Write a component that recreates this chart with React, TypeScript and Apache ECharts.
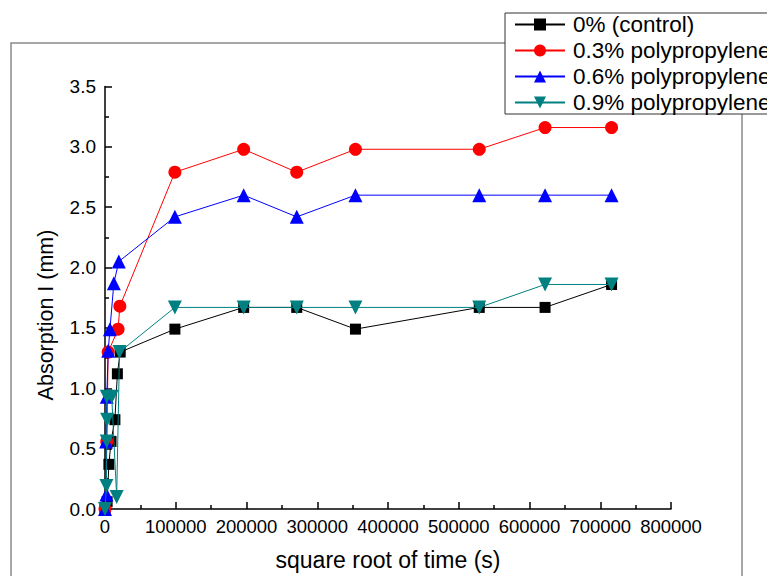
import React, { useEffect, useRef } from "react";
import * as echarts from "echarts";

const seriesNames = ["0% (control)", "0.3% polypropylene", "0.6% polypropylene", "0.9% polypropylene"];
const seriesColors = ["#000000", "#ff0000", "#0000ff", "#008080"];
const seriesSymbols = ["rect", "circle", "triangle", "path://M0,0 L10,0 L5,9 Z"];
const seriesSymbolSizes = [11, 13, 14, 14];

const controlX = [0, 3000, 5500, 8500, 14000, 17500, 21500, 98800, 196000, 271000, 354000, 529000, 622000, 716000];
const controlY = [0, 0.06, 0.37, 0.56, 0.74, 1.12, 1.30, 1.49, 1.67, 1.67, 1.49, 1.67, 1.67, 1.86];

const pp03X = [0, 2500, 4500, 18500, 21000, 98800, 196000, 271000, 354000, 529000, 622000, 716000];
const pp03Y = [0, 0.56, 1.30, 1.49, 1.68, 2.79, 2.98, 2.79, 2.98, 2.98, 3.16, 3.16];

const pp06X = [0, 2000, 1500, 2500, 4500, 7000, 12500, 19500, 98800, 196000, 271000, 354000, 529000, 622000, 716000];
const pp06Y = [0, 0.12, 0.56, 0.93, 1.31, 1.49, 1.87, 2.05, 2.42, 2.60, 2.42, 2.60, 2.60, 2.60, 2.60];

const pp09X = [0, 2000, 2500, 3000, 2500, 9500, 16500, 20500, 98800, 196000, 271000, 354000, 529000, 622000, 716000];
const pp09Y = [0, 0.19, 0.56, 0.74, 0.93, 0.93, 0.10, 1.30, 1.67, 1.67, 1.67, 1.67, 1.67, 1.86, 1.86];

const xs = [controlX, pp03X, pp06X, pp09X];
const ys = [controlY, pp03Y, pp06Y, pp09Y];

const xAxisTitle = "square root of time (s)";
const yAxisTitle = "Absorption I (mm)";

const FONT = "'Liberation Sans', Arial, Helvetica, sans-serif";

export default function App() {
  const ref = useRef<HTMLDivElement>(null);
  useEffect(() => {
    if (!ref.current) return;
    const chart = echarts.init(ref.current, null, { renderer: "svg", width: 767, height: 576 });
    const series = seriesNames.map((name, i) => ({
      name,
      type: "line",
      data: xs[i].map((x, j) => [x, ys[i][j]]),
      symbol: seriesSymbols[i],
      symbolSize: seriesSymbolSizes[i],
      showAllSymbol: true,
      lineStyle: { color: seriesColors[i], width: 1 },
      itemStyle: { color: seriesColors[i] },
      z: 2 + i,
    }));
    chart.setOption({
      animation: false,
      backgroundColor: "#ffffff",
      graphic: [
        {
          type: "rect",
          shape: { x: 11, y: 43, width: 731, height: 560 },
          style: { fill: "none", stroke: "#8a8a8a", lineWidth: 1.5 },
          z: 0,
        },
        {
          type: "text",
          x: 46,
          y: 315,
          rotation: Math.PI / 2,
          style: {
            text: yAxisTitle,
            fontFamily: FONT,
            fontSize: 21.5,
            fill: "#000",
            textAlign: "center",
            textVerticalAlign: "middle",
          },
          z: 5,
        },
      ],
      legend: {
        orient: "vertical",
        left: 505,
        top: 13,
        padding: [0, 40, 0, 9],
        itemWidth: 50,
        itemHeight: 15,
        itemGap: 3,
        backgroundColor: "#ffffff",
        borderColor: "#333333",
        borderWidth: 1,
        borderRadius: 0,
        textStyle: { fontFamily: FONT, fontSize: 22.5, color: "#000", padding: [0, 0, 0, 3] },
        data: seriesNames,
        z: 10,
      },
      grid: { left: 105, width: 566, top: 86.5, height: 430, containLabel: false },
      xAxis: {
        type: "value",
        min: 0,
        max: 800000,
        interval: 100000,
        name: xAxisTitle,
        nameLocation: "middle",
        nameGap: 39,
        nameTextStyle: { fontFamily: FONT, fontSize: 23, color: "#000" },
        axisLine: { show: true, lineStyle: { color: "#000", width: 1.5 } },
        axisTick: { show: true, inside: true, length: 7, lineStyle: { color: "#000", width: 1.5 } },
        minorTick: { show: true, splitNumber: 2, length: 4, lineStyle: { color: "#000", width: 1.5 } },
        splitLine: { show: false },
        axisLabel: { fontFamily: FONT, fontSize: 18.5, color: "#000", margin: 8, formatter: (v: number) => String(v) },
      },
      yAxis: {
        type: "value",
        min: 0,
        max: 3.5,
        interval: 0.5,
        axisLine: { show: true, lineStyle: { color: "#000", width: 1.5 } },
        axisTick: { show: true, inside: true, length: 7, lineStyle: { color: "#000", width: 1.5 } },
        minorTick: { show: true, splitNumber: 2, length: 4, lineStyle: { color: "#000", width: 1.5 } },
        splitLine: { show: false },
        axisLabel: { fontFamily: FONT, fontSize: 19, color: "#000", margin: 9, formatter: (v: number) => v.toFixed(1) },
      },
      series,
    });
    return () => chart.dispose();
  }, []);
  return (
    <div
      ref={ref}
      style={{ position: "absolute", left: 0, top: 0, width: 767, height: 576, overflow: "hidden" }}
    />
  );
}
